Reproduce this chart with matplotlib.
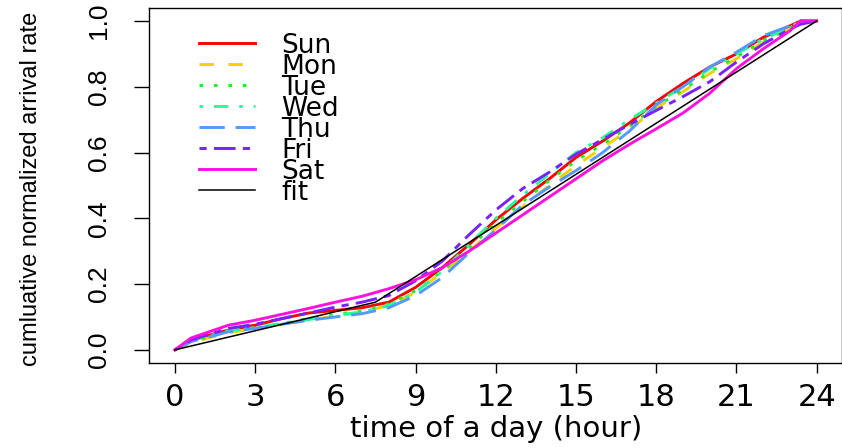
import matplotlib
matplotlib.use('Agg')
import matplotlib.pyplot as plt

plt.rcParams['lines.scale_dashes'] = False

# hours of the day where the cumulative curves were read
hours = [0, 0.6, 2, 3, 4, 5, 6, 7, 8, 9, 10, 11, 12, 13, 14, 15, 16, 17, 18, 19, 20, 21, 22, 23, 23.4, 24]

sun = [0, .030, .060, .075, .095, .112, .120, .128, .145, .190, .250, .320, .395, .460, .520, .585, .635, .690, .755, .810, .860, .900, .950, .985, 1.0, 1.0]
mon = [0, .022, .052, .065, .078, .090, .103, .115, .135, .175, .235, .300, .370, .435, .500, .560, .615, .670, .735, .785, .840, .885, .935, .975, .995, 1.0]
tue = [0, .025, .055, .068, .080, .095, .108, .118, .140, .180, .240, .310, .385, .450, .515, .575, .625, .680, .740, .790, .845, .890, .940, .980, 1.0, 1.0]
wed = [0, .028, .058, .068, .080, .092, .105, .115, .135, .175, .240, .320, .400, .470, .535, .600, .645, .700, .750, .800, .855, .900, .945, .980, 1.0, 1.0]
thu = [0, .025, .055, .065, .078, .090, .100, .110, .128, .165, .220, .295, .365, .440, .495, .545, .600, .665, .745, .800, .860, .905, .955, .985, 1.0, 1.0]
fri = [0, .030, .065, .078, .095, .112, .130, .145, .165, .210, .270, .350, .425, .490, .540, .595, .640, .685, .728, .770, .815, .875, .930, .975, .990, 1.0]
sat = [0, .036, .075, .090, .108, .126, .145, .163, .186, .213, .250, .300, .355, .410, .465, .520, .575, .625, .672, .720, .780, .855, .915, .970, 1.0, 1.0]

# fitted piecewise linear curve
fit_hours = [0, 7.5, 24]
fit_rate = [0, 0.145, 1.0]

days = ['Sun', 'Mon', 'Tue', 'Wed', 'Thu', 'Fri', 'Sat']
series = [sun, mon, tue, wed, thu, fri, sat]
colors = ['#FF0000', '#F5D000', '#22EE22', '#22FF99', '#5599FF', '#7722FF', '#FF11DD']
u = 2.6  # R dash unit in points
styles = [None, (0, (4 * u, 4 * u)), (0, (1 * u, 3 * u)), (0, (1 * u, 3 * u, 4 * u, 3 * u)),
          (0, (7 * u, 3 * u)), (0, (2 * u, 2 * u, 6 * u, 2 * u)), None]

fig = plt.figure(figsize=(8.42, 4.48), dpi=100)
ax = fig.add_axes([149.3 / 842, 85 / 448, 693 / 842, 355.2 / 448])

for name, vals, c, ls in zip(days, series, colors, styles):
    if ls is None:
        ax.plot(hours, vals, color=c, lw=2.1, label=name)
    else:
        ax.plot(hours, vals, color=c, lw=2.1, linestyle=ls, dash_capstyle='butt', label=name)
ax.plot(fit_hours, fit_rate, color='black', lw=1.1, label='fit')

ax.set_xlim(-0.96, 24.96)
ax.set_ylim(-0.04, 1.04)
ax.set_xticks(range(0, 25, 3))
ax.set_yticks([0, 0.2, 0.4, 0.6, 0.8, 1.0])
ax.set_yticklabels(['0.0', '0.2', '0.4', '0.6', '0.8', '1.0'], rotation=90, va='center',
                   family='Liberation Sans', fontsize=19)
ax.set_xticklabels([str(h) for h in range(0, 25, 3)], family='DejaVu Sans', fontsize=22)
ax.tick_params(axis='x', length=7.2, width=1.0, pad=7)
ax.tick_params(axis='y', length=10.5, width=1.0, pad=17)
for sp in ax.spines.values():
    sp.set_linewidth(1.0)

ax.set_xlabel('time of a day (hour)', family='DejaVu Sans', fontsize=21, va='top')
ax.xaxis.set_label_coords(0.5, -0.145)
ax.set_ylabel('cumluative normalized arrival rate', family='Liberation Sans', fontsize=17)
ax.yaxis.set_label_coords(-0.155, 0.49)

ax.legend(loc='upper left', bbox_to_anchor=(0.072, 0.93), frameon=False,
          prop={'family': 'DejaVu Sans', 'size': 19}, handlelength=2.1,
          handletextpad=1.0, labelspacing=-0.19, borderpad=0, borderaxespad=0)

fig.savefig('out.png', dpi=100)
